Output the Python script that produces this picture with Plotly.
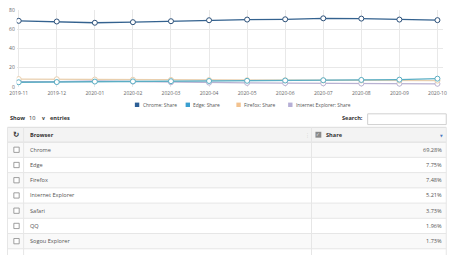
import plotly.graph_objects as go

W, H = 460, 255

months = ["2019-11", "2019-12", "2020-01", "2020-02", "2020-03", "2020-04",
          "2020-05", "2020-06", "2020-07", "2020-08", "2020-09", "2020-10"]
chrome = [68.6, 67.9, 66.6, 67.2, 68.2, 69.2, 69.9, 70.2, 71.2, 70.9, 69.9, 69.3]
edge = [4.9, 5.1, 5.6, 5.8, 6.0, 6.2, 6.4, 6.7, 7.0, 7.3, 7.6, 8.6]
firefox = [8.2, 8.0, 7.7, 7.5, 7.3, 7.1, 7.0, 6.9, 6.8, 6.7, 6.6, 6.6]
ie = [5.6, 5.5, 6.2, 5.6, 4.9, 4.5, 4.2, 4.0, 3.8, 3.6, 3.4, 3.3]

series_names = ["Chrome: Share", "Edge: Share", "Firefox: Share", "Internet Explorer: Share"]
series_colors = ["#2d5f96", "#3a9fd0", "#f2c28f", "#b6afd6"]
line_colors = ["#34628f", "#5aaec4", "#e9cfae", "#b9b2d2"]

browsers = ["Chrome", "Edge", "Firefox", "Internet Explorer", "Safari", "QQ", "Sogou Explorer"]
shares = ["69.28%", "7.75%", "7.48%", "5.21%", "3.73%", "1.96%", "1.73%"]

FONT = "Open Sans"


def px(x):
    return x / W


def py(y):
    return 1 - y / H


fig = go.Figure()

all_series = [chrome, edge, firefox, ie]
for idx in [3, 2, 1, 0]:
    fig.add_trace(go.Scatter(
        x=months, y=all_series[idx], mode="lines+markers",
        name=series_names[idx], showlegend=False,
        line=dict(color=line_colors[idx], width=1.3),
        marker=dict(size=5, color="white",
                    line=dict(color=line_colors[idx] if idx else "#2b4f78", width=1)),
    ))

fig.update_layout(
    width=W, height=H,
    margin=dict(l=0, r=0, t=0, b=0),
    paper_bgcolor="white", plot_bgcolor="white",
    font=dict(family=FONT, color="#555"),
    xaxis=dict(domain=[px(10), px(447)], type="category",
               range=[-2 / 39, -2 / 39 + 437 / 39],
               showgrid=True, gridcolor="#e8e8e8", gridwidth=1,
               zeroline=False, showline=False, ticks="", ticklabelstandoff=2,
               tickfont=dict(size=5, color="#666", family=FONT)),
    yaxis=dict(domain=[py(86), py(7)], range=[0, 80], tickvals=[0, 20, 40, 60, 80],
               showgrid=True, gridcolor="#e8e8e8", gridwidth=1,
               zeroline=False, showline=False, ticks="", ticklabelstandoff=1,
               tickfont=dict(size=5, color="#666", family=FONT)),
)

shapes = []
annotations = []


def text(x, y, s, size=5.6, color="#333", anchor="left", family=FONT):
    annotations.append(dict(xref="paper", yref="paper", x=px(x), y=py(y), text=s,
                            showarrow=False, xanchor=anchor, yanchor="middle",
                            font=dict(size=size, color=color, family=family)))


# legend
leg_x = [131, 183, 235, 288]
for i, name in enumerate(series_names):
    x0 = leg_x[i]
    shapes.append(dict(type="rect", xref="paper", yref="paper",
                       x0=px(x0), x1=px(x0 + 4.5), y0=py(106.5), y1=py(102),
                       fillcolor=series_colors[i], line=dict(width=0)))
    text(x0 + 6, 104.3, name, size=4.9, color="#555")

# Show 10 entries
text(1.5, 117.3, "<b>Show</b>")
text(20.5, 117.3, "10")
text(37, 117.3, "<b>v</b>", size=5, anchor="center")
text(42, 117.3, "<b>entries</b>")

# Search
text(366.5, 118, "<b>Search:</b>", anchor="right")
shapes.append(dict(type="rect", xref="paper", yref="paper",
                   x0=px(369.5), x1=px(450), y0=py(124.5), y1=py(113.5),
                   fillcolor="white", line=dict(color="#d0d0d0", width=1)))

TX0, C1, C2, TX1 = 0.5, 17, 312, 450
HEAD_T, HEAD_B = 127.3, 142.5
ROW_H = 15.6

shapes.append(dict(type="rect", xref="paper", yref="paper",
                   x0=px(TX0), x1=px(TX1), y0=py(HEAD_B), y1=py(HEAD_T),
                   fillcolor="#f3f3f3", line=dict(width=0)))
hm = (HEAD_T + HEAD_B) / 2
text(9.5, hm, "<b>↻</b>", size=7.5, anchor="center", family="DejaVu Sans")
text(21.5, hm, "<b>Browser</b>")
text(308, hm, "⋮", size=5, color="#bbb", anchor="center", family="DejaVu Sans")
shapes.append(dict(type="rect", xref="paper", yref="paper",
                   x0=px(316), x1=px(322), y0=py(hm + 3), y1=py(hm - 3),
                   fillcolor="#8a8a8a", line=dict(width=0)))
text(319, hm, "✓", size=4.5, color="white", anchor="center", family="DejaVu Sans")
text(325, hm, "<b>Share</b>")
text(445, hm + 1, "▼", size=3.5, color="#4a78c0", anchor="center", family="DejaVu Sans")

for i, (b, s) in enumerate(zip(browsers, shares)):
    top = HEAD_B + i * ROW_H
    bot = top + ROW_H
    mid = (top + bot) / 2
    if i % 2 == 0:
        shapes.append(dict(type="rect", xref="paper", yref="paper",
                           x0=px(TX0), x1=px(TX1), y0=py(bot), y1=py(top),
                           fillcolor="#f9f9f9", line=dict(width=0)))
    shapes.append(dict(type="rect", xref="paper", yref="paper",
                       x0=px(7), x1=px(12.5), y0=py(mid + 2.7), y1=py(mid - 2.7),
                       fillcolor="white", line=dict(color="#888", width=0.8)))
    text(21.5, mid, b, color="#555")
    text(448, mid, s, color="#555", anchor="right")

n = len(browsers)
ys = [HEAD_T, HEAD_B] + [HEAD_B + (i + 1) * ROW_H for i in range(n)]
for k, yv in enumerate(ys):
    shapes.append(dict(type="line", xref="paper", yref="paper",
                       x0=px(TX0), x1=px(TX1), y0=py(yv), y1=py(yv),
                       line=dict(color="#dcdcdc" if k < 2 else "#e6e6e6", width=1)))
for xv in [TX0, C1, C2, TX1]:
    shapes.append(dict(type="line", xref="paper", yref="paper",
                       x0=px(xv), x1=px(xv), y0=py(HEAD_T), y1=py(H + 5),
                       line=dict(color="#e6e6e6", width=1)))

fig.update_layout(shapes=shapes, annotations=annotations)

fig.write_html("out.html")
